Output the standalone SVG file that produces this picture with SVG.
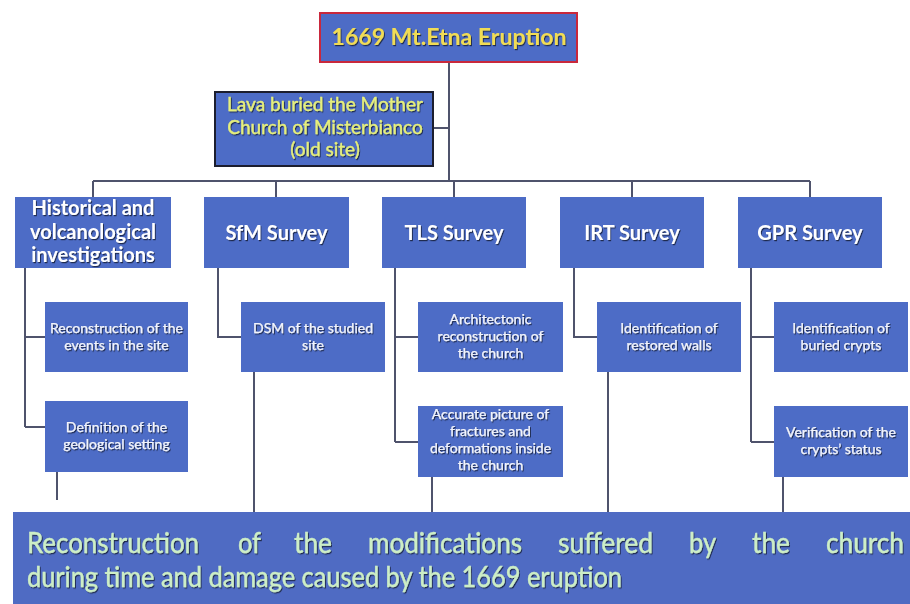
<svg xmlns="http://www.w3.org/2000/svg" width="910" height="604" viewBox="0 0 910 604">
<defs>
<filter id="sh" x="-10%" y="-20%" width="120%" height="150%">
<feDropShadow dx="1" dy="1.2" stdDeviation="0.6" flood-color="#000" flood-opacity="0.6"/>
</filter>
</defs>
<style>
.box{fill:#4d6cc6;}
.lk{fill:none;stroke:#4f536c;stroke-width:2;}
text{font-family:Lato,"Open Sans","Liberation Sans",sans-serif;text-anchor:middle;filter:url(#sh);}
.l2{font-size:20px;font-weight:bold;fill:#ffffff;}
.l3{font-size:14px;fill:#f2f4fb;stroke:#f2f4fb;stroke-width:0.25;}
.ttl{font-size:23px;font-weight:bold;fill:#f1dc55;}
.lava{font-size:19px;fill:#e6ef7c;stroke:#e6ef7c;stroke-width:0.35;}
.big{font-size:28px;fill:#cdeec6;stroke:#cdeec6;stroke-width:0.4;text-anchor:start;}
</style>
<rect width="910" height="604" fill="#ffffff"/>
<g id="connectors">
<path class="lk" d="M449,62 V181"/>
<path class="lk" d="M433,128 H449"/>
<path class="lk" d="M93,181 H810"/>
<path class="lk" d="M93,181 V197 M276,181 V197 M454,181 V197 M632,181 V197 M810,181 V197"/>
<path class="lk" d="M25,268 V427 M25,337 H45 M25,427 H45"/>
<path class="lk" d="M218,268 V337 H241"/>
<path class="lk" d="M395,268 V442 M395,337 H418 M395,442 H418"/>
<path class="lk" d="M574,268 V337 H597"/>
<path class="lk" d="M751,268 V442 M751,337 H774 M751,442 H774"/>
<path class="lk" d="M57,472 V500 M254,372 V512 M432,477 V512 M608,372 V512 M783,477 V512"/>
</g>
<g id="n-eruption">
<rect x="320" y="13" width="257" height="49" fill="#4d6cc6" stroke="#c9283c" stroke-width="2"/>
<text class="ttl" x="449" y="45" textLength="235" lengthAdjust="spacingAndGlyphs">1669 Mt.Etna Eruption</text>
</g>
<g id="n-lava">
<rect x="215" y="92" width="218" height="74" fill="#4d6cc6" stroke="#1c1e2e" stroke-width="2"/>
<text class="lava" x="325" y="111">Lava buried the Mother</text>
<text class="lava" x="325" y="134">Church of Misterbianco</text>
<text class="lava" x="325" y="156">(old site)</text>
</g>
<g id="n-historical">
<rect class="box" x="15" y="197" width="156" height="71"/>
<text class="l2" x="93" y="215">Historical and</text>
<text class="l2" x="93" y="238.5">volcanological</text>
<text class="l2" x="93" y="262">investigations</text>
</g>
<g id="n-sfm">
<rect class="box" x="204" y="197" width="145" height="71"/>
<text class="l2" x="276.5" y="240">SfM Survey</text>
</g>
<g id="n-tls">
<rect class="box" x="382" y="197" width="144" height="71"/>
<text class="l2" x="454" y="240">TLS Survey</text>
</g>
<g id="n-irt">
<rect class="box" x="560" y="197" width="144" height="71"/>
<text class="l2" x="632" y="240">IRT Survey</text>
</g>
<g id="n-gpr">
<rect class="box" x="738" y="197" width="144" height="71"/>
<text class="l2" x="810" y="240">GPR Survey</text>
</g>
<g id="n-recon-events">
<rect class="box" x="45" y="302" width="143" height="70"/>
<text class="l3" x="116.5" y="333">Reconstruction of the</text>
<text class="l3" x="116.5" y="350">events in the site</text>
</g>
<g id="n-geo-setting">
<rect class="box" x="45" y="401" width="143" height="71"/>
<text class="l3" x="116.5" y="432">Definition of the</text>
<text class="l3" x="116.5" y="449">geological setting</text>
</g>
<g id="n-dsm">
<rect class="box" x="241" y="302" width="144" height="70"/>
<text class="l3" x="313" y="333">DSM of the studied</text>
<text class="l3" x="313" y="350">site</text>
</g>
<g id="n-architectonic">
<rect class="box" x="418" y="302" width="145" height="70"/>
<text class="l3" x="490.5" y="324">Architectonic</text>
<text class="l3" x="490.5" y="341">reconstruction of</text>
<text class="l3" x="490.5" y="358">the church</text>
</g>
<g id="n-fractures">
<rect class="box" x="418" y="406" width="145" height="71"/>
<text class="l3" x="490.5" y="419">Accurate picture of</text>
<text class="l3" x="490.5" y="436">fractures and</text>
<text class="l3" x="490.5" y="453">deformations inside</text>
<text class="l3" x="490.5" y="470">the church</text>
</g>
<g id="n-walls">
<rect class="box" x="597" y="302" width="144" height="70"/>
<text class="l3" x="669" y="333">Identification of</text>
<text class="l3" x="669" y="350">restored walls</text>
</g>
<g id="n-crypts">
<rect class="box" x="774" y="302" width="134" height="70"/>
<text class="l3" x="841" y="333">Identification of</text>
<text class="l3" x="841" y="350">buried crypts</text>
</g>
<g id="n-crypt-status">
<rect class="box" x="774" y="406" width="134" height="71"/>
<text class="l3" x="841" y="437">Verification of the</text>
<text class="l3" x="841" y="454">crypts’ status</text>
</g>
<g id="n-result">
<rect x="13" y="512" width="897" height="92" fill="#4f6bc3"/>
<text class="big" y="553"><tspan x="27" textLength="172" lengthAdjust="spacingAndGlyphs">Reconstruction</tspan><tspan x="238" textLength="23" lengthAdjust="spacingAndGlyphs">of</tspan><tspan x="294" textLength="38" lengthAdjust="spacingAndGlyphs">the</tspan><tspan x="368" textLength="154" lengthAdjust="spacingAndGlyphs">modifications</tspan><tspan x="558" textLength="95" lengthAdjust="spacingAndGlyphs">suffered</tspan><tspan x="689" textLength="27" lengthAdjust="spacingAndGlyphs">by</tspan><tspan x="752" textLength="38" lengthAdjust="spacingAndGlyphs">the</tspan><tspan x="826" textLength="78" lengthAdjust="spacingAndGlyphs">church</tspan></text>
<text class="big" x="27" y="587" textLength="595" lengthAdjust="spacingAndGlyphs">during time and damage caused by the 1669 eruption</text>
</g>
</svg>
